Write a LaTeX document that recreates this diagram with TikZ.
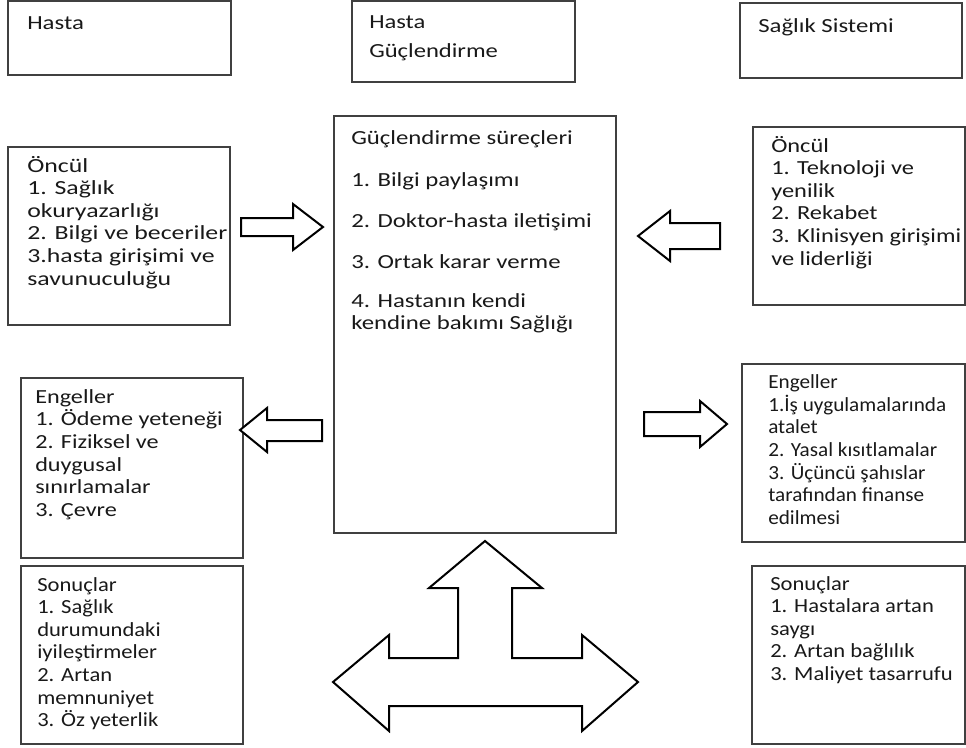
\documentclass[tikz,border=0pt]{standalone}
\usepackage{graphicx}
\usepackage{fontspec}
\setmainfont{Carlito}
\usetikzlibrary{fit}
\definecolor{boxgray}{gray}{0.25}
\definecolor{txtc}{gray}{0.1}
\newcommand{\bodyfont}{\fontsize{15pt}{16.95pt}\selectfont}
\newcommand{\mlines}[2]{\scalebox{#1}[1]{\begin{tabular}[t]{@{}l@{}}#2\end{tabular}}}
\begin{document}
\begin{tikzpicture}[x=0.75pt,y=-0.75pt,
  box/.style={draw=boxgray, line width=1.1pt, inner sep=0pt},
  txt/.style={anchor=base west, inner sep=0pt, text=txtc, font=\bodyfont},
  blockarrow/.style={draw=black, line width=1.5pt, fill=white, line join=miter}
]
\useasboundingbox (0,0) rectangle (966,747);

% top boxes
\node[box, fit={(8,1) (231,75)}] (hasta) {};
\node[txt] (thasta) at (27,29) {\mlines{1.24}{Hasta}};
\node[box, fit={(352,1) (575,82)}] (hg) {};
\node[txt] (thg) at (369,28) {\mlines{1.23}{Hasta\\[4.8pt]Güçlendirme}};
\node[box, fit={(740,3) (962,78)}] (ss) {};
\node[txt] (tss) at (758,32) {\mlines{1.24}{Sağlık Sistemi}};

% center box
\node[box, fit={(334,116) (616,533)}] (center) {};
\node[txt] (c0) at (351,144) {\mlines{1.24}{Güçlendirme süreçleri}};
\node[txt] (c1) at (351,186) {\mlines{1.24}{1. Bilgi paylaşımı}};
\node[txt] (c2) at (351,227) {\mlines{1.24}{2. Doktor-hasta iletişimi}};
\node[txt] (c3) at (351,268) {\mlines{1.24}{3. Ortak karar verme}};
\node[txt] (c4) at (351,307) {\mlines{1.24}{4. Hastanın kendi\\kendine bakımı Sağlığı}};

% left column
\node[box, fit={(8,147) (230,325)}] (lonc) {};
\node[txt] (tlonc) at (27,172) {\mlines{1.29}{Öncül\\1. Sağlık\\okuryazarlığı\\2. Bilgi ve beceriler\\3.hasta girişimi ve\\savunuculuğu}};
\node[box, fit={(21,378) (243,558)}] (leng) {};
\node[txt] (tleng) at (35,403) {\mlines{1.21}{Engeller\\1. Ödeme yeteneği\\2. Fiziksel ve\\duygusal\\sınırlamalar\\3. Çevre}};
\node[box, fit={(21,566) (243,744)}] (lson) {};
\node[txt] (tlson) at (37,591) {\mlines{1.13}{Sonuçlar\\1. Sağlık\\durumundaki\\iyileştirmeler\\2. Artan\\memnuniyet\\3. Öz yeterlik}};

% right column
\node[box, fit={(753,127) (965,305)}] (ronc) {};
\node[txt] (tronc) at (771,152) {\mlines{1.22}{Öncül\\1. Teknoloji ve\\yenilik\\2. Rekabet\\3. Klinisyen girişimi\\ve liderliği}};
\node[box, fit={(742,364) (965,542)}] (reng) {};
\node[txt] (treng) at (768,388) {\mlines{1.06}{Engeller\\1.İş uygulamalarında\\atalet\\2. Yasal kısıtlamalar\\3. Üçüncü şahıslar\\tarafından finanse\\edilmesi}};
\node[box, fit={(752,566) (965,744)}] (rson) {};
\node[txt] (trson) at (770,590) {\mlines{1.13}{Sonuçlar\\1. Hastalara artan\\saygı\\2. Artan bağlılık\\3. Maliyet tasarrufu}};

% block arrows
\draw[blockarrow] (241,218) -- (293,218) -- (293,204) -- (323,227) -- (293,250) -- (293,236) -- (241,236) -- cycle;
\draw[blockarrow] (720,223) -- (670,223) -- (670,211) -- (638,236) -- (670,261) -- (670,249) -- (720,249) -- cycle;
\draw[blockarrow] (322,420) -- (267,420) -- (267,408) -- (240,430) -- (267,452) -- (267,441) -- (322,441) -- cycle;
\draw[blockarrow] (644,412) -- (700,412) -- (700,401) -- (727,424) -- (700,447) -- (700,436) -- (644,436) -- cycle;

% three-way arrow
\draw[blockarrow] (485,541) -- (542,588) -- (512,588) -- (512,658) -- (582,658) -- (582,635) -- (638,682) -- (582,731) -- (582,706) -- (389,706) -- (389,731) -- (333,682) -- (389,635) -- (389,658) -- (458,658) -- (458,588) -- (429,588) -- cycle;
\end{tikzpicture}
\end{document}
